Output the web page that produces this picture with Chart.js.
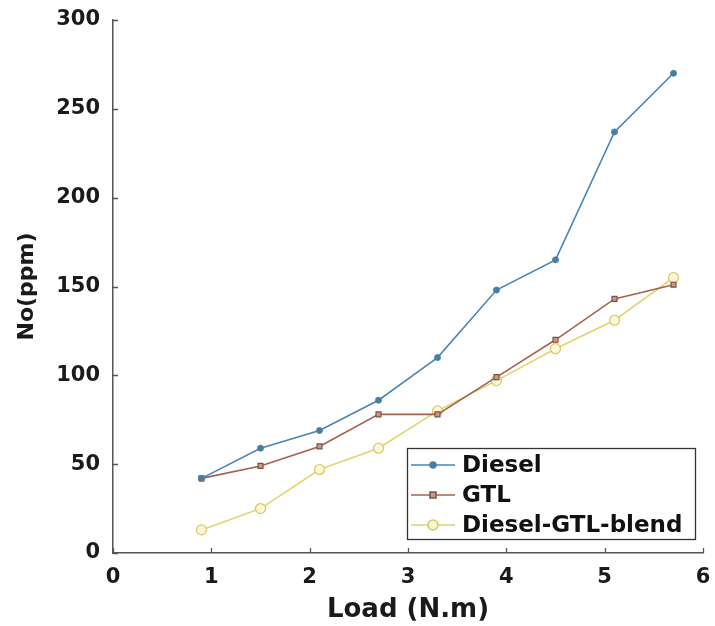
<!DOCTYPE html>
<html>
<head>
<meta charset="utf-8">
<script src="https://cdn.jsdelivr.net/npm/chart.js@4/dist/chart.umd.min.js"></script>
<style>
  html, body { margin: 0; padding: 0; background: #fff; }
  #wrap { width: 715px; height: 626px; }
</style>
</head>
<body>
<div id="wrap"><canvas id="chart" width="715" height="626"></canvas></div>
<script>
'use strict';

// values
const loads = [0.9, 1.5, 2.1, 2.7, 3.3, 3.9, 4.5, 5.1, 5.7];
const diesel = [42, 59, 69, 86, 110, 148, 165, 237, 270];
const gtl = [42, 49, 60, 78, 78, 99, 120, 143, 151];
const blend = [13, 25, 47, 59, 80, 97, 115, 131, 155];
const seriesNames = ['Diesel', 'GTL', 'Diesel-GTL-blend'];
const xTicks = [0, 1, 2, 3, 4, 5, 6];
const yTicks = [0, 50, 100, 150, 200, 250, 300];

const FONT = "'DejaVu Sans', Arial, sans-serif";

function points(ys) {
  return loads.map((x, i) => ({ x: x, y: ys[i] }));
}

// small inward tick marks on both axes
const innerTicks = {
  id: 'innerTicks',
  afterDraw(chart) {
    const ctx = chart.ctx;
    const xs = chart.scales.x;
    const ys = chart.scales.y;
    const area = chart.chartArea;
    ctx.save();
    ctx.strokeStyle = '#555';
    ctx.lineWidth = 1.3;
    ctx.beginPath();
    for (const v of xTicks) {
      const px = Math.round(xs.getPixelForValue(v)) + 0.5;
      ctx.moveTo(px, area.bottom);
      ctx.lineTo(px, area.bottom - 5);
    }
    for (const v of yTicks) {
      const py = Math.round(ys.getPixelForValue(v)) + 0.5;
      ctx.moveTo(area.left, py);
      ctx.lineTo(area.left + 5, py);
    }
    ctx.stroke();
    ctx.restore();
  }
};

// boxed legend inside the plot, bottom right
const boxLegend = {
  id: 'boxLegend',
  afterDraw(chart) {
    const ctx = chart.ctx;
    const area = chart.chartArea;
    const right = area.right - 8;
    const bottom = area.bottom - 14;
    const w = 288, h = 91;
    const left = right - w, top = bottom - h;
    ctx.save();
    ctx.fillStyle = '#fff';
    ctx.fillRect(left, top, w, h);
    ctx.strokeStyle = '#333';
    ctx.lineWidth = 1.3;
    ctx.strokeRect(left + 0.5, top + 0.5, w, h);
    ctx.font = 'bold 23px ' + FONT;
    ctx.textBaseline = 'middle';
    chart.data.datasets.forEach((ds, i) => {
      const cy = top + 17 + i * 30;
      ctx.strokeStyle = ds.borderColor;
      ctx.lineWidth = 1.5;
      ctx.beginPath();
      ctx.moveTo(left + 4, cy);
      ctx.lineTo(left + 48, cy);
      ctx.stroke();
      ctx.fillStyle = ds.pointBackgroundColor;
      ctx.strokeStyle = ds.pointBorderColor;
      ctx.beginPath();
      if (ds.pointStyle === 'rect') {
        ctx.rect(left + 23, cy - 3, 6, 6);
      } else {
        ctx.arc(left + 26, cy, ds.pointRadius, 0, Math.PI * 2);
      }
      ctx.fill();
      ctx.stroke();
      ctx.fillStyle = '#111';
      ctx.fillText(ds.label, left + 55, cy + 1);
    });
    ctx.restore();
  }
};

const ctx = document.getElementById('chart').getContext('2d');
new Chart(ctx, {
  type: 'scatter',
  data: {
    datasets: [
      {
        label: seriesNames[0],
        data: points(diesel),
        showLine: true,
        borderColor: '#4a86b3',
        borderWidth: 1.6,
        pointStyle: 'circle',
        pointRadius: 3,
        pointBackgroundColor: '#3f7fae',
        pointBorderColor: '#5a7f9a',
        pointBorderWidth: 1
      },
      {
        label: seriesNames[1],
        data: points(gtl),
        showLine: true,
        borderColor: '#a8604f',
        borderWidth: 1.6,
        pointStyle: 'rect',
        pointRadius: 3.5,
        pointBackgroundColor: '#c89a88',
        pointBorderColor: '#7d5244',
        pointBorderWidth: 1.2
      },
      {
        label: seriesNames[2],
        data: points(blend),
        showLine: true,
        borderColor: '#e2d46e',
        borderWidth: 1.6,
        pointStyle: 'circle',
        pointRadius: 5,
        pointBackgroundColor: '#fbf6d8',
        pointBorderColor: '#d9c860',
        pointBorderWidth: 1.2
      }
    ]
  },
  options: {
    responsive: false,
    animation: false,
    events: [],
    layout: { padding: { left: 0, right: 12, top: 20, bottom: 0 } },
    plugins: {
      legend: { display: false },
      tooltip: { enabled: false }
    },
    scales: {
      x: {
        type: 'linear',
        min: 0,
        max: 6,
        afterBuildTicks(scale) { scale.ticks = xTicks.map(v => ({ value: v })); },
        afterFit(scale) {
          scale.height = 73;
          scale.paddingLeft = 0;
          scale.paddingRight = 0;
        },
        grid: { display: false, drawTicks: false },
        border: { display: true, color: '#555', width: 1.5 },
        ticks: {
          color: '#1a1a1a',
          padding: 12,
          maxRotation: 0,
          font: { family: FONT, size: 21, weight: 'bold' }
        },
        title: {
          display: true,
          text: 'Load (N.m)',
          color: '#1a1a1a',
          padding: { top: 0, bottom: 0 },
          font: { family: FONT, size: 26, weight: 'bold' }
        }
      },
      y: {
        min: 0,
        max: 300,
        afterBuildTicks(scale) { scale.ticks = yTicks.map(v => ({ value: v })); },
        afterFit(scale) {
          scale.width = 113;
          scale.paddingTop = 0;
          scale.paddingBottom = 0;
        },
        grid: { display: false, drawTicks: false },
        border: { display: true, color: '#555', width: 1.5 },
        ticks: {
          color: '#1a1a1a',
          padding: 13,
          font: { family: FONT, size: 21, weight: 'bold' }
        },
        title: {
          display: true,
          text: 'No(ppm)',
          color: '#1a1a1a',
          padding: { top: 14, bottom: 4 },
          font: { family: FONT, size: 22, weight: 'bold' }
        }
      }
    }
  },
  plugins: [innerTicks, boxLegend]
});
</script>
</body>
</html>
